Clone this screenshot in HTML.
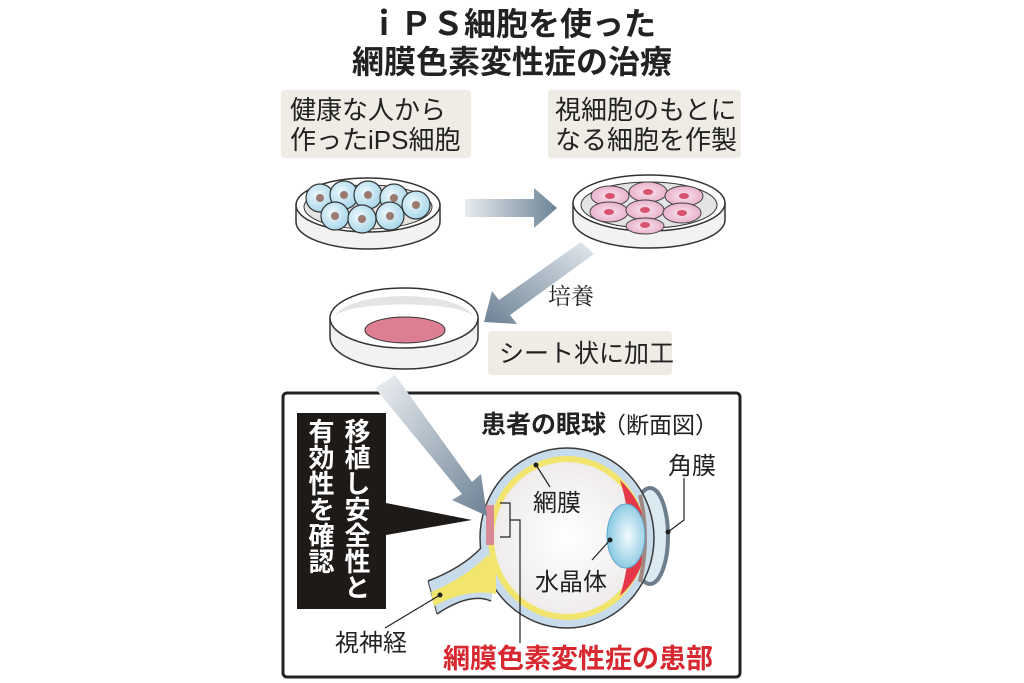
<!DOCTYPE html>
<html><head><meta charset="utf-8"><style>
html,body{margin:0;padding:0;background:#fff;}
svg{display:block;font-family:"Liberation Sans","Noto Sans CJK JP",sans-serif;}
</style></head><body>
<svg width="1024" height="683" viewBox="0 0 1024 683" xmlns="http://www.w3.org/2000/svg">
<defs>
<linearGradient id="ga" x1="0" x2="1" y1="0" y2="0"><stop offset="0" stop-color="#e8edf1"/><stop offset="1" stop-color="#6d8295"/></linearGradient>
<linearGradient id="gb" x1="1" x2="0" y1="0" y2="1"><stop offset="0" stop-color="#e3e9ee"/><stop offset="1" stop-color="#6d8295"/></linearGradient>
<linearGradient id="gc" x1="0" x2="1" y1="0" y2="1"><stop offset="0" stop-color="#eef1f4"/><stop offset="1" stop-color="#6d8295"/></linearGradient>
<radialGradient id="cb" cx="0.4" cy="0.4" r="0.6"><stop offset="0" stop-color="#eef8fc"/><stop offset="1" stop-color="#a9d7ea"/></radialGradient>
<radialGradient id="cp" cx="0.5" cy="0.5" r="0.6"><stop offset="0" stop-color="#f8e3ee"/><stop offset="1" stop-color="#e7a8c6"/></radialGradient>
<radialGradient id="lens" cx="0.55" cy="0.5" r="0.6"><stop offset="0" stop-color="#f4fbfe"/><stop offset="1" stop-color="#7ec3e0"/></radialGradient>
<radialGradient id="inner" cx="0.5" cy="0.5" r="0.6"><stop offset="0" stop-color="#fff"/><stop offset="1" stop-color="#ece8e8"/></radialGradient>
</defs>

<text x="512" y="35" font-size="32" font-weight="bold" text-anchor="middle" fill="#222">ｉＰＳ細胞を使った</text>
<text x="512" y="73" font-size="32" font-weight="bold" text-anchor="middle" fill="#222">網膜色素変性症の治療</text>

<rect x="281" y="90" width="190" height="68" rx="3" fill="#eeece4"/>
<text x="290" y="119" font-size="26" fill="#222">健康な人から</text>
<text x="290" y="149" font-size="26" fill="#222">作ったiPS細胞</text>
<rect x="548" y="90" width="193" height="68" rx="3" fill="#eeece4"/>
<text x="555" y="119" font-size="26" fill="#222">視細胞のもとに</text>
<text x="555" y="149" font-size="26" fill="#222">なる細胞を作製</text>

<g stroke="#333" stroke-width="1.5">
<path d="M296 205 L296 222 A72 27 0 0 0 440 222 L440 205" fill="#f2f2f2"/>
<ellipse cx="368" cy="205" rx="72" ry="27" fill="#fff"/>
<ellipse cx="368" cy="207" rx="64" ry="22" fill="#e4e4e4" stroke-width="1"/>
</g>
<g stroke="#333" stroke-width="1.2" fill="url(#cb)">
<circle cx="320" cy="198" r="14"/><circle cx="344" cy="195" r="14"/><circle cx="368" cy="195" r="14"/><circle cx="394" cy="198" r="14"/><circle cx="416" cy="205" r="14"/>
<circle cx="335" cy="216" r="14"/><circle cx="362" cy="219" r="14"/><circle cx="390" cy="216" r="14"/>
</g>
<g fill="#9a7a6f"><circle cx="320" cy="198" r="4"/><circle cx="344" cy="195" r="4"/><circle cx="368" cy="195" r="4"/><circle cx="394" cy="198" r="4"/><circle cx="416" cy="205" r="4"/><circle cx="335" cy="216" r="4"/><circle cx="362" cy="219" r="4"/><circle cx="390" cy="216" r="4"/></g>

<polygon points="465,199 534,199 534,188 557,208 534,228 534,217 465,217" fill="url(#ga)"/>

<g stroke="#333" stroke-width="1.5">
<path d="M573 203 L573 220 A76 28 0 0 0 725 220 L725 203" fill="#f2f2f2"/>
<ellipse cx="649" cy="203" rx="76" ry="28" fill="#fff"/>
<ellipse cx="649" cy="205" rx="68" ry="23" fill="#e4e4e4" stroke-width="1"/>
</g>
<g stroke="#444" stroke-width="1" fill="url(#cp)">
<ellipse cx="610" cy="196" rx="19" ry="10"/><ellipse cx="648" cy="192" rx="19" ry="10"/><ellipse cx="684" cy="196" rx="19" ry="10"/>
<ellipse cx="609" cy="212" rx="19" ry="10"/><ellipse cx="645" cy="210" rx="19" ry="10"/><ellipse cx="682" cy="213" rx="19" ry="10"/>
<ellipse cx="645" cy="226" rx="19" ry="8"/>
</g>
<g fill="#d7536e"><ellipse cx="610" cy="196" rx="5" ry="3"/><ellipse cx="648" cy="192" rx="5" ry="3"/><ellipse cx="684" cy="196" rx="5" ry="3"/><ellipse cx="609" cy="212" rx="5" ry="3"/><ellipse cx="645" cy="210" rx="5" ry="3"/><ellipse cx="682" cy="213" rx="5" ry="3"/><ellipse cx="645" cy="225" rx="5" ry="3"/></g>

<polygon points="581,242 594,254 510,315 517,324 484,322 492,291 499,300" fill="url(#gb)"/>
<text x="548" y="304" font-size="23" fill="#222" font-family="Liberation Serif,Noto Serif CJK SC,serif">培養</text>

<g stroke="#333" stroke-width="1.5">
<path d="M330 318 L330 337 A74 32 0 0 0 478 337 L478 318" fill="#f2f2f2"/>
<ellipse cx="404" cy="318" rx="74" ry="30" fill="#fff"/>
<path d="M335 316 A70 24 0 0 1 473 316 A70 14 0 0 0 335 316Z" fill="#e4e4e4" stroke="none"/>
<ellipse cx="405" cy="330" rx="40" ry="13" fill="#dd7f93" stroke-width="1"/>
</g>
<rect x="488" y="331" width="184" height="44" rx="3" fill="#eeece4"/>
<text x="499" y="362" font-size="25" fill="#222">シート状に加工</text>

<rect x="283" y="393" width="457" height="284" rx="4" fill="#fff" stroke="#222" stroke-width="3"/>

<rect x="297" y="413" width="89" height="196" fill="#1e1a18"/>
<text font-size="26" font-weight="bold" fill="#fff" style="writing-mode:vertical-rl" x="356" y="418">移植し安全性と</text>
<text font-size="26" font-weight="bold" fill="#fff" style="writing-mode:vertical-rl" x="320" y="418">有効性を確認</text>
<polygon points="386,503 386,535 472,520" fill="#1e1a18"/>

<text x="481" y="433" font-size="25" font-weight="bold" fill="#222">患者の眼球</text>
<text x="603" y="433" font-size="23" fill="#222">（断面図）</text>

<ellipse cx="650" cy="536" rx="18" ry="48" fill="#dbe9f1" stroke="#6d7e8c" stroke-width="4"/>
<ellipse cx="567" cy="538" rx="87" ry="90" fill="#c7dbea" stroke="#3a3a3a" stroke-width="1.5"/>
<ellipse cx="567" cy="538" rx="79" ry="82" fill="#f2e56e"/>
<ellipse cx="567" cy="538" rx="73" ry="76" fill="url(#inner)"/>
<path d="M620 480 Q646 505 646 538 Q646 572 620 596 Q628 570 630 538 Q628 505 620 480Z" fill="#e4384a"/>
<path d="M640 495 Q650 538 640 582" stroke="#a08880" stroke-width="4" fill="none"/>
<ellipse cx="626" cy="536" rx="19" ry="32" fill="url(#lens)" stroke="#5aa4c8" stroke-width="1"/>
<polygon points="486,505 494,505 494,545 486,545" fill="#d98895"/>

<path d="M428 581 Q462 568 481 548 L492 560 L492 600 Q470 592 437 614 Z" fill="#c7dbea"/>
<path d="M428 581 Q462 568 481 548" fill="none" stroke="#3a3a3a" stroke-width="1.5"/>
<path d="M437 614 Q470 592 491 601" fill="none" stroke="#3a3a3a" stroke-width="1.5"/>
<path d="M428 581 L437 614" fill="none" stroke="#3a3a3a" stroke-width="1"/>
<path d="M431 592 Q465 578 488 555 L496 562 L496 594 Q468 588 434 606 Z" fill="#f2e56e"/>

<polygon points="375,388 395,375 472,482 481,474 487,516 452,500 462,494" fill="url(#gc)"/>

<g stroke="#222" stroke-width="1.2" fill="none">
<path d="M500 503 L510 503 L510 537 L500 537"/>
<path d="M510 520 L520 520 L520 643"/>
<path d="M536 465 L550 487"/>
<path d="M610 540 L592 560"/>
<path d="M668 532 L684 520 L684 478"/>
<path d="M440 595 L385 628"/>
</g>
<g fill="#222"><circle cx="536" cy="465" r="2.5"/><circle cx="610" cy="540" r="2.5"/><circle cx="668" cy="532" r="2.5"/><circle cx="440" cy="595" r="2.5"/></g>

<text x="533" y="511" font-size="24" fill="#222">網膜</text>
<text x="535" y="590" font-size="24" fill="#222">水晶体</text>
<text x="668" y="474" font-size="24" fill="#222">角膜</text>
<text x="335" y="651" font-size="24" fill="#222">視神経</text>
<text x="443" y="668" font-size="27" font-weight="bold" fill="#d8282f">網膜色素変性症の患部</text>
</svg>
</body></html>
